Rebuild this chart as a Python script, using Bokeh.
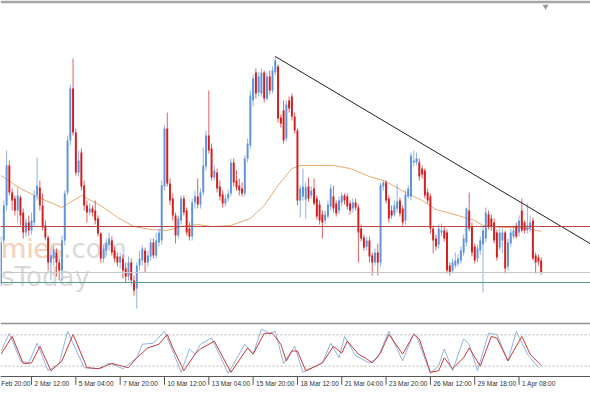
from bokeh.plotting import figure
from bokeh.layouts import column
from bokeh.models import Range1d, Span, ColumnDataSource
from bokeh.embed import file_html
from bokeh.resources import INLINE
from bokeh.core.properties import value

# ---------------- data (H4 bars, index = bar number) ----------------
bars = list(range(5, 201))
opens = [117,160,195,235,208,202,190,203,188,168,178,170,178,205,213,195,175,163,138,142,
         148,138,130,160,208,260,312,268,228,248,215,195,188,192,190,182,167,142,150,156,
         160,150,144,138,142,132,124,138,120,112,135,140,150,138,144,158,145,158,160,214,
         272,217,202,185,165,180,202,190,172,164,198,204,196,208,234,265,252,223,228,214,
         206,197,202,207,238,220,215,212,207,242,255,300,328,308,307,328,302,324,310,328,
         334,283,290,262,300,304,284,270,200,204,201,214,205,212,202,196,186,180,184,194,
         204,197,190,198,205,204,197,192,198,193,172,163,154,160,145,138,148,138,214,218,
         202,190,186,192,200,192,180,204,204,238,238,238,232,230,208,204,172,162,156,168,
         170,168,135,130,135,137,140,148,158,190,174,154,142,150,156,162,186,182,178,168,
         153,160,168,134,157,164,175,168,190,178,170,172,180,145,143,140]
highs = [164,200,250,240,212,205,213,205,192,182,185,188,210,243,220,207,180,165,152,155,
         152,142,165,210,265,316,342,272,250,252,220,200,197,195,200,185,168,156,162,168,
         164,154,148,148,146,138,144,142,125,138,150,155,153,150,162,162,168,172,220,275,
         288,222,207,188,185,205,205,193,178,202,210,222,212,253,270,310,257,235,232,220,
         210,206,211,242,242,230,222,218,245,262,310,326,332,328,332,330,328,330,334,344,
         336,286,300,300,304,307,288,272,215,232,218,223,214,222,205,200,190,190,200,216,
         215,200,204,208,207,207,200,202,202,196,176,166,164,164,148,152,157,218,220,220,
         205,195,200,217,203,195,210,215,248,250,248,242,235,232,212,207,175,166,176,177,
         174,171,138,142,148,146,154,166,193,208,178,157,156,164,174,193,190,186,182,171,
         172,172,170,162,172,174,178,185,202,180,197,185,183,148,146,143]
lows = [114,157,190,205,190,185,178,175,162,164,165,166,174,200,190,170,160,130,120,135,
        124,120,120,155,205,255,265,225,224,210,190,178,185,184,176,164,138,138,145,150,
        145,138,134,132,122,118,120,116,105,92,130,135,128,134,140,142,142,154,156,210,
        214,195,180,157,162,176,185,165,160,160,192,192,192,205,230,247,220,220,208,200,
        193,194,199,204,214,210,205,204,204,238,252,294,302,304,304,298,300,306,307,325,
        278,273,257,259,288,280,267,195,183,200,182,199,202,195,181,176,162,176,182,190,
        188,184,186,194,196,191,186,188,190,138,159,150,150,138,125,135,125,134,210,197,
        178,182,184,188,184,175,176,202,200,234,235,220,222,202,197,167,147,150,152,164,
        159,127,125,127,132,134,137,145,154,169,144,137,138,146,108,158,171,170,157,140,
        150,147,127,130,154,162,162,164,168,167,167,168,140,127,135,126]
closes = [158,195,235,208,200,190,205,185,168,178,170,180,205,215,195,173,163,138,145,150,
          138,130,160,207,260,312,268,228,240,214,195,188,192,188,180,167,142,152,158,162,
          148,142,138,144,130,124,138,120,110,135,142,152,138,145,158,145,160,168,215,272,
          217,200,185,165,182,202,188,168,164,198,204,196,208,235,265,250,223,230,212,204,
          197,202,207,238,218,213,210,207,242,257,305,322,307,324,328,302,324,310,330,340,
          282,277,260,296,292,284,270,200,212,214,213,202,210,197,184,180,178,186,196,212,
          192,187,200,205,200,194,190,198,193,168,162,153,160,144,138,148,138,215,218,200,
          182,185,195,199,187,178,206,212,245,240,242,224,226,205,200,172,160,154,172,170,
          162,130,128,138,140,142,150,162,192,172,148,140,152,160,170,188,174,174,160,143,
          168,168,132,158,168,170,164,180,170,170,175,178,142,138,139,128]

# moving average (bar, value)
ma_bars = [5,12,17,27,34,41,47,53,59,65,70,76,81,88,95,100,105,110,113,125,131,138,144,151,157,162,170,176,179,186,193,200]
ma_vals = [225,212,205,193,205,195,183,174,171,170,174,176,174,175,182,195,215,232,235,235,232,224,219,208,200,191,185,180,175,173,173,169]

# levels and trend line anchors
resistance_level = 174
support_level_1 = 128
support_level_2 = 118
trend_bars = [104, 193]
trend_vals = [344, 197.5]
trend_end_bar = 218

# stochastic oscillator (bar, value)
k_bars = [5,8,12,15,18,22,26,29,35,41,44,49,54,56,60,64,67,70,73,75,77,81,87,93,96,99,102,104,107,111,114,121,124,127,129,133,138,141,145,150,154,155,160,163,165,168,172,174,177,181,184,188,191,195,199]
k_vals = [49,83,30,26,64,11,25,87,17,15,26,15,36,62,64,87,49,8,53,43,62,74,6,62,43,91,83,87,25,58,8,26,64,36,77,40,26,36,87,30,83,77,6,21,53,11,72,62,11,83,81,30,87,43,17]
d_bars = [5,9,13,16,19,23,27,31,36,40,45,51,54,58,62,65,67,71,75,77,82,88,94,96,100,103,106,108,110,112,115,121,125,128,130,134,137,139,142,145,150,154,156,160,163,165,168,172,174,178,182,184,188,193,196,200]
d_vals = [43,77,25,26,58,11,30,81,17,15,25,17,36,55,62,81,55,11,43,53,68,8,55,43,83,83,62,30,49,49,11,26,58,45,68,43,34,26,45,81,43,81,72,8,11,36,15,36,55,20,77,74,30,77,43,21]
stoch_levels = [80, 20]

# time scale (the first label is only partly visible in the picture)
tick_bars = [0,16,32,48,64,80,96,112,128,144,160,176,192]
tick_labels = ["Feb 20:00","2 Mar 12:00","5 Mar 04:00","7 Mar 20:00","10 Mar 12:00",
               "13 Mar 04:00","15 Mar 20:00","18 Mar 12:00","21 Mar 04:00","23 Mar 20:00",
               "26 Mar 12:00","29 Mar 18:00","1 Apr 08:00"]
label_offsets = [14] + [3] * 12

# ---------------- styling ----------------
UP = "#5f93dc"
DOWN = "#d21e1e"

xr = Range1d(4.8, 217.8)

p = figure(width=590, height=322, x_range=xr, y_range=Range1d(78, 397),
           output_backend="svg", toolbar_location=None, title=None,
           x_axis_location=None, y_axis_location=None,
           min_border_left=0, min_border_right=0, min_border_top=3, min_border_bottom=0,
           border_fill_color="#a6a6a6", background_fill_color="white", outline_line_color=None)
p.grid.visible = False

# watermark
wm_font = value("DejaVu Sans")
p.text(x=[bars[0]], y=[152], text=["mies.com"], text_font=wm_font, text_font_size="26px",
       text_color="#dadada", text_align="left", text_baseline="alphabetic", x_offset=0)
p.text(x=[bars[0]], y=[152], text=["mies"], text_font=wm_font, text_font_size="26px",
       text_color="#f6d3bc", text_align="left", text_baseline="alphabetic", x_offset=0)
p.text(x=[bars[0]], y=[124], text=["sToday"], text_font=wm_font, text_font_size="26px",
       text_color="#dadada", text_align="left", text_baseline="alphabetic", x_offset=0)

for lvl, col in [(resistance_level, "#b84848"), (support_level_1, "#c8c8c8"), (support_level_2, "#5a9e90")]:
    p.add_layout(Span(location=lvl, dimension="width", line_color=col, line_width=1))

p.line(ma_bars, ma_vals, line_color="#e8ab70", line_width=1)

colors = [UP if c >= o else DOWN for o, c in zip(opens, closes)]
src = ColumnDataSource(dict(x=bars, o=opens, h=highs, l=lows, c=closes,
                            top=[max(o, c) for o, c in zip(opens, closes)],
                            bot=[min(o, c) for o, c in zip(opens, closes)],
                            col=colors))
p.segment(x0="x", y0="l", x1="x", y1="h", source=src, line_color="col", line_width=1, line_alpha=0.7)
p.vbar(x="x", width=0.7, top="top", bottom="bot", source=src, fill_color="col", line_color=None)

slope = (trend_vals[1] - trend_vals[0]) / (trend_bars[1] - trend_bars[0])
p.segment(x0=[trend_bars[0]], y0=[trend_vals[0]], x1=[trend_end_bar],
          y1=[trend_vals[0] + slope * (trend_end_bar - trend_bars[0])], line_color="#202020", line_width=1)

p.scatter(x=[201.6], y=[394], marker="inverted_triangle", size=6, fill_color="#9a9a9a", line_color=None)

# ---------------- stochastic window ----------------
s = figure(width=590, height=71, x_range=xr, y_range=Range1d(-32.7, 100),
           output_backend="svg", toolbar_location=None, title=None,
           x_axis_location=None, y_axis_location=None,
           min_border_left=0, min_border_right=0, min_border_top=2, min_border_bottom=0,
           border_fill_color="#8e8e8e", background_fill_color="white", outline_line_color=None)
s.grid.visible = False
for lvl in stoch_levels:
    s.add_layout(Span(location=lvl, dimension="width", line_color="#b4b4b4", line_width=1, line_dash="2 2"))
s.add_layout(Span(location=0, dimension="width", line_color="#555555", line_width=1))

s.line(k_bars, k_vals, line_color="#8fb4de", line_width=1)
s.line(d_bars, d_vals, line_color="#c83a3a", line_width=1)

s.segment(x0=tick_bars[1:], y0=[0] * 12, x1=tick_bars[1:], y1=[-16] * 12,
          line_color="#555555", line_width=1)
lab = ColumnDataSource(dict(x=tick_bars, y=[-13] * len(tick_bars), t=tick_labels, dx=label_offsets))
s.text(x="x", y="y", text="t", x_offset="dx", source=lab,
       text_font=value("Liberation Sans"), text_font_size="6.5px", text_color="#303030",
       text_align="left", text_baseline="middle")

layout = column(p, s, spacing=0)
open("out.html", "w").write(file_html(layout, INLINE))
